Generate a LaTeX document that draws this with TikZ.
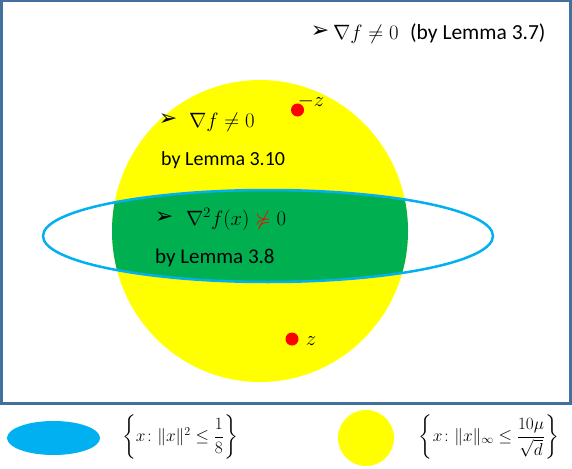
\documentclass[tikz,border=0pt]{standalone}
\usepackage{amsmath,amssymb}
\usepackage{fontspec}
\setmainfont{Carlito}
\newfontfamily\dejavu{DejaVu Sans}
\definecolor{yel}{HTML}{FFFF00}
\definecolor{grn}{HTML}{00B050}
\definecolor{cyn}{HTML}{00B0F0}
\definecolor{frm}{HTML}{41719C}
\definecolor{rd}{HTML}{FF0000}
\tikzset{
  lbl/.style={inner sep=0pt, anchor=base west, font=\fontsize{20}{24}\selectfont},
  bul/.style={inner sep=0pt, font=\dejavu\fontsize{22}{24}\selectfont},
  dotnode/.style={circle, fill=rd, minimum size=13pt, inner sep=0pt},
  leg/.style={inner sep=0pt, font=\fontsize{18.5}{21}\selectfont},
}
\begin{document}
\begin{tikzpicture}[x=1pt,y=-1pt]
\useasboundingbox (0,0) rectangle (572,468);
\fill[white] (0,0) rectangle (572,468);
% yellow region
\fill[yel] (260,231) ellipse [x radius=148, y radius=151];
\begin{scope}
  \clip (268,236) ellipse [x radius=225, y radius=46];
  \fill[grn] (260,231) ellipse [x radius=148, y radius=151];
\end{scope}
\draw[cyn, line width=2.5pt] (268,236) ellipse [x radius=225, y radius=46];
\draw[frm, line width=2.5pt] (1.25,1.25) rectangle (570.5,403.5);
% top text
\node[bul] (b1) at (320,32) {➢};
\node[lbl] (m1) at (333,40) {$\nabla f \neq 0$};
\node[lbl, font=\fontsize{21.5}{24}\selectfont] (t1) at (410,40) {(by Lemma 3.7)};
% yellow text
\node[bul] (b2) at (168,120) {➢};
\node[lbl] (m2) at (189,127) {$\nabla f \neq 0$};
\node[lbl] (t2) at (161,165) {by Lemma 3.10};
% green text
\node[bul] (b3) at (164,218) {➢};
\node[lbl] (m3) at (186,225) {$\nabla^2 f(x) \mathrel{\textcolor{rd}{\not\succcurlyeq}} 0$};
\node[lbl, font=\fontsize{21}{24}\selectfont] (t3) at (155,263) {by Lemma 3.8};
% points
\node[dotnode] (pz) at (297.5,110) {};
\node[font=\fontsize{20}{24}\selectfont, inner sep=0pt] (lz) at (311,101) {$-z$};
\node[dotnode] (qz) at (292,339) {};
\node[font=\fontsize{20}{24}\selectfont, inner sep=0pt] (lq) at (311,341) {$z$};
% legend
\fill[cyn] (53.5,438) ellipse [x radius=46.5, y radius=17];
\node[leg] (l1) at (180,437) {$\left\{x\colon \|x\|^2 \le \dfrac{1}{8}\right\}$};
\fill[yel] (366,438) circle [radius=28];
\node[leg] (l2) at (489,437) {$\left\{x\colon \|x\|_\infty \le \dfrac{10\mu}{\sqrt{d}}\right\}$};
\end{tikzpicture}
\end{document}
